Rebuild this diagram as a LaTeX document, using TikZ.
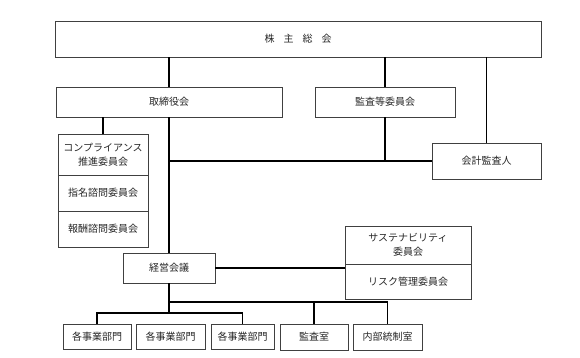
\documentclass[tikz,border=0pt]{standalone}
\usepackage{fontspec}
\setmainfont{Noto Sans CJK JP}
\begin{document}
\begin{tikzpicture}[x=1pt,y=-1pt,
  box/.style={draw=black!75,line width=0.6pt,rectangle,inner sep=0pt,align=center,
    font=\fontsize{10}{14}\selectfont,text=black!85},
  conn/.style={line width=1.4pt,black}]
\useasboundingbox (0,0) rectangle (580,358);
\node[box,minimum width=486pt,minimum height=36pt] (sh) at (298,39) {株\hspace{9pt}主\hspace{9pt}総\hspace{9pt}会};
\node[box,minimum width=226pt,minimum height=30pt] (tori) at (169,102) {取締役会};
\node[box,minimum width=140pt,minimum height=30pt] (kansa) at (385,102) {監査等委員会};
\node[box,minimum width=109pt,minimum height=36pt] (kaikei) at (486.5,161) {会計監査人};
\node[box,minimum width=90pt,minimum height=41pt] (comp) at (103,154.5) {コンプライアンス\\推進委員会};
\node[box,minimum width=90pt,minimum height=36pt] (shimei) at (103,193) {指名諮問委員会};
\node[box,minimum width=90pt,minimum height=36pt] (hoshu) at (103,229) {報酬諮問委員会};
\node[box,minimum width=92pt,minimum height=30pt] (keiei) at (169,268) {経営会議};
\node[box,minimum width=126pt,minimum height=38pt] (sus) at (408,245) {サステナビリティ\\委員会};
\node[box,minimum width=126pt,minimum height=35pt] (risk) at (408,281.5) {リスク管理委員会};
\node[box,minimum width=68pt,minimum height=25pt] (b1) at (97,336.5) {各事業部門};
\node[box,minimum width=69pt,minimum height=25pt] (b2) at (170.5,336.5) {各事業部門};
\node[box,minimum width=63pt,minimum height=25pt] (b3) at (242.5,336.5) {各事業部門};
\node[box,minimum width=68pt,minimum height=26pt] (ks) at (314,337) {監査室};
\node[box,minimum width=69pt,minimum height=26pt] (nb) at (387.5,337) {内部統制室};
\coordinate (bus1) at (169,302);
\coordinate (bus2) at (169,313);
\draw[conn] (sh.south -| tori.north) -- (tori.north);
\draw[conn] (sh.south -| kansa.north) -- (kansa.north);
\draw[conn] (sh.south -| kaikei.north) -- (kaikei.north);
\draw[conn] (tori.south -| comp.north) -- (comp.north);
\draw[conn] (tori.south) -- (keiei.north);
\draw[conn] (kaikei.west) -- (kaikei.west -| keiei.north);
\draw[conn] (kansa.south) -- (kansa.south |- kaikei.west);
\draw[conn] (keiei.east) -- (keiei.east -| risk.west);
\draw[conn] (keiei.south) -- (bus2);
\draw[conn] (bus1) -| (nb.north);
\draw[conn] (ks.north) -- (ks.north |- bus1);
\draw[conn] (b1.north) |- (bus2) -| (b3.north);
\end{tikzpicture}
\end{document}
